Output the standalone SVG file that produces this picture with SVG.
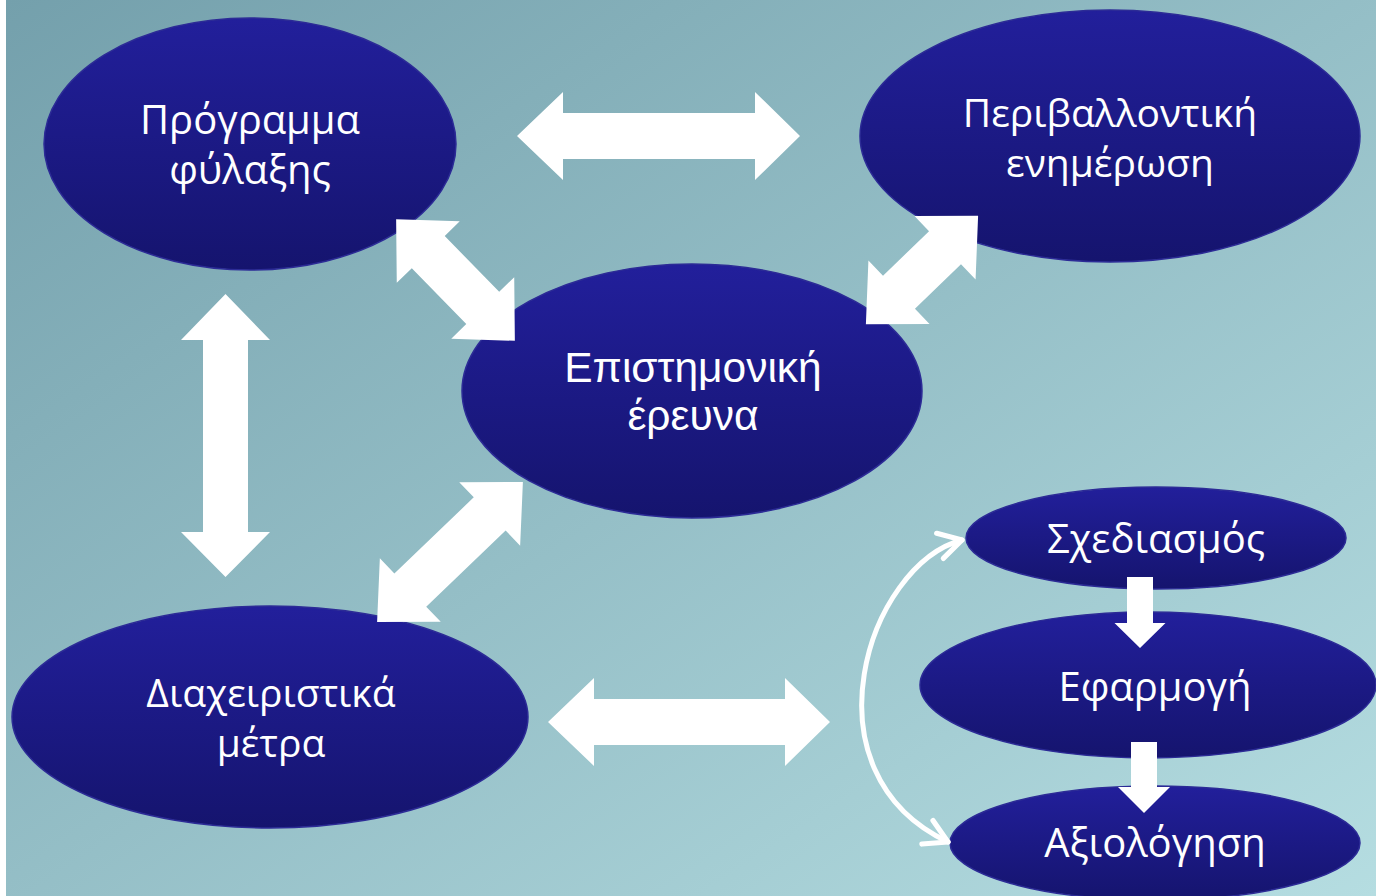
<svg xmlns="http://www.w3.org/2000/svg" width="1376" height="896" viewBox="0 0 1376 896">
  <defs>
    <linearGradient id="bg" x1="0" y1="0" x2="1" y2="1">
      <stop offset="0" stop-color="#74a0ac"/>
      <stop offset="1" stop-color="#b5dde1"/>
    </linearGradient>
    <linearGradient id="nodeFill" x1="0" y1="0" x2="0" y2="1">
      <stop offset="0" stop-color="#221f9b"/>
      <stop offset="1" stop-color="#15146e"/>
    </linearGradient>
    <marker id="chev" viewBox="0 0 20 20" refX="17" refY="10" markerWidth="6.5" markerHeight="6.5" markerUnits="strokeWidth" orient="auto-start-reverse">
      <path d="M3,2 L17,10 L3,18" fill="none" stroke="#ffffff" stroke-width="3.2" stroke-linecap="round" stroke-linejoin="round"/>
    </marker>
  </defs>
  <style>
    .node { fill: url(#nodeFill); stroke: #2c2b96; stroke-width: 1.5; }
    .lbl { fill: #ffffff; font-family: "Open Sans", "Liberation Sans", sans-serif; font-size: 40px; text-anchor: middle; }
    .lblA { fill: #ffffff; font-family: "Liberation Sans", Arial, sans-serif; font-size: 42.5px; text-anchor: middle; }
    .blk { fill: #ffffff; }
    .curve { fill: none; stroke: #ffffff; stroke-width: 5; stroke-linecap: round; }
  </style>

  <rect x="0" y="0" width="1376" height="896" fill="#ffffff"/>
  <rect x="6" y="0" width="1370" height="896" fill="url(#bg)"/>

  <g id="node-programma">
    <ellipse class="node" cx="250" cy="144" rx="206" ry="126"/>
    <text class="lbl" x="250" y="134">Πρόγραμμα</text>
    <text class="lbl" x="250" y="184">φύλαξης</text>
  </g>
  <g id="node-perivallontiki">
    <ellipse class="node" cx="1110" cy="136" rx="250" ry="126"/>
    <text class="lbl" x="1110" y="127" style="font-size:39px">Περιβαλλοντική</text>
    <text class="lbl" x="1110" y="177" style="font-size:39px">ενημέρωση</text>
  </g>
  <g id="node-epistimoniki">
    <ellipse class="node" cx="692" cy="391" rx="230" ry="127"/>
    <text class="lblA" x="693" y="382">Επιστημονική</text>
    <text class="lblA" x="693" y="430">έρευνα</text>
  </g>
  <g id="node-diaxeiristika">
    <ellipse class="node" cx="270" cy="717" rx="258" ry="111"/>
    <text class="lbl" x="271" y="707" style="font-size:39px">Διαχειριστικά</text>
    <text class="lbl" x="271" y="757" style="font-size:39px">μέτρα</text>
  </g>
  <g id="node-sxediasmos">
    <ellipse class="node" cx="1156" cy="538" rx="190" ry="51"/>
    <text class="lbl" x="1156" y="553">Σχεδιασμός</text>
  </g>
  <g id="node-efarmogi">
    <ellipse class="node" cx="1148" cy="685" rx="228" ry="73"/>
    <text class="lbl" x="1155" y="701">Εφαρμογή</text>
  </g>
  <g id="node-axiologisi">
    <ellipse class="node" cx="1155" cy="843" rx="205" ry="57"/>
    <text class="lbl" x="1155" y="857">Αξιολόγηση</text>
  </g>

  <g id="connectors">
    <!-- top horizontal -->
    <path class="blk" d="M517,136 L563,92 L563,113 L755,113 L755,92 L800,136 L755,180 L755,159 L563,159 L563,180 Z"/>
    <!-- bottom horizontal -->
    <path class="blk" d="M548,722 L594,678 L594,699 L785,699 L785,678 L830,722 L785,766 L785,745 L594,745 L594,766 Z"/>
    <!-- left vertical -->
    <path class="blk" d="M225.5,294 L270,340 L248,340 L248,532 L270,532 L225.5,577 L181,532 L203,532 L203,340 L181,340 Z"/>
    <!-- diagonal: Πρόγραμμα - Επιστημονική -->
    <path class="blk" transform="translate(455.5,280) rotate(45.7)" d="M-85,0 L-39,-44 L-39,-23 L39,-23 L39,-44 L85,0 L39,44 L39,23 L-39,23 L-39,44 Z"/>
    <!-- diagonal: Περιβαλλοντική - Επιστημονική -->
    <path class="blk" transform="translate(922,270) rotate(-44)" d="M-78,0 L-32,-44 L-32,-23 L32,-23 L32,-44 L78,0 L32,44 L32,23 L-32,23 L-32,44 Z"/>
    <!-- diagonal: Διαχειριστικά - Επιστημονική -->
    <path class="blk" transform="translate(450,552) rotate(-43.8)" d="M-101,0 L-55,-44 L-55,-23 L55,-23 L55,-44 L101,0 L55,44 L55,23 L-55,23 L-55,44 Z"/>
    <!-- curved cycle arrow -->
    <path class="curve" d="M962,540 C868,565 800,772 948,842" marker-start="url(#chev)" marker-end="url(#chev)"/>
    <!-- step arrows -->
    <path class="blk" d="M1127,577 L1153,577 L1153,623 L1165.5,623 L1140,648 L1114.5,623 L1127,623 Z"/>
    <path class="blk" d="M1131,742 L1157,742 L1157,787 L1170,787 L1144,813 L1118,787 L1131,787 Z"/>
  </g>
</svg>
